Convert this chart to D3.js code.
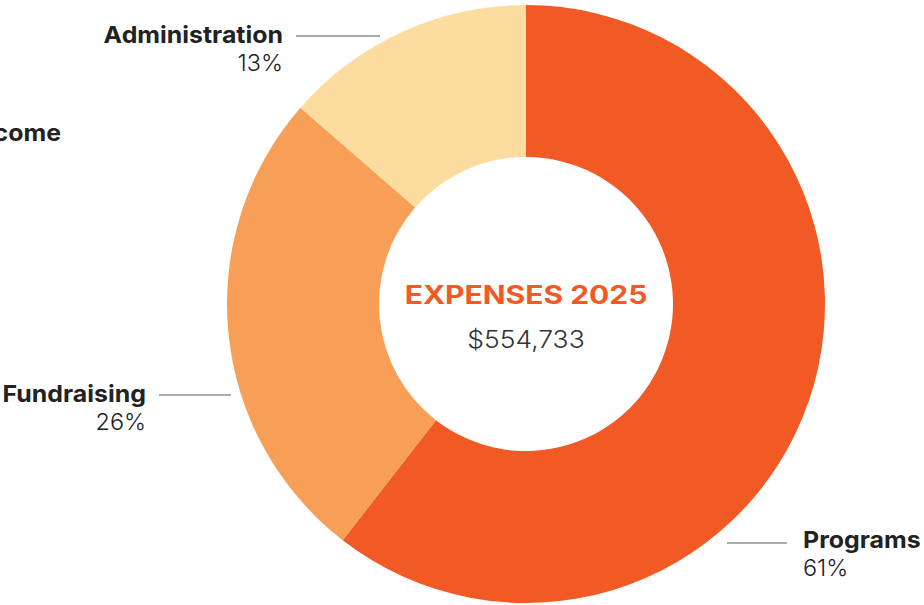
<!DOCTYPE html>
<html>
<head>
<meta charset="utf-8">
<script src="https://cdn.jsdelivr.net/npm/d3@7"></script>
<style>
  html, body { margin: 0; padding: 0; background: #fff; }
  svg { display: block; font-family: Inter, "Noto Sans", sans-serif; }
</style>
</head>
<body>
<div id="chart"></div>
<script>
// Dados
const categories = ["Programs", "Fundraising", "Administration"];
const sliceShares = [60.5, 25.9, 13.6];
const pctLabels = ["61%", "26%", "13%"];
const colors = ["#F15A24", "#F79F57", "#FDDCA0"];
const title = "EXPENSES 2025";
const total = "$554,733";

const width = 924, height = 605;
const cx = 526, cy = 304;
const outerR = 299, innerR = 147;

const svg = d3.select("#chart").append("svg")
  .attr("width", width)
  .attr("height", height);

const data = categories.map((c, i) => ({ name: c, value: sliceShares[i], pct: pctLabels[i], color: colors[i] }));

const pie = d3.pie().sort(null).value(d => d.value);
const arc = d3.arc().innerRadius(innerR).outerRadius(outerR);

const g = svg.append("g").attr("transform", `translate(${cx},${cy})`);

g.selectAll("path")
  .data(pie(data))
  .enter()
  .append("path")
  .attr("d", arc)
  .attr("fill", d => d.data.color);

// Texto esticado na horizontal (fonte original é mais larga)
function wideText(parent, x, y, sx, anchor) {
  return parent.append("text")
    .attr("transform", `translate(${x},${y}) scale(${sx},1)`)
    .attr("text-anchor", anchor);
}

// Texto central
wideText(g, 0, 0, 1.2, "middle")
  .attr("fill", "#F15A24")
  .style("font-size", "25px")
  .style("font-weight", 700)
  .text(title);

wideText(g, 0, 44, 1.08, "middle")
  .attr("fill", "#333")
  .style("font-size", "24.5px")
  .style("font-weight", 300)
  .text(total);

// Rótulos com linhas de ligação
const labelPos = {
  Administration: { x: 283, y: 43, anchor: "end", line: [296, 380, 36] },
  Fundraising: { x: 146, y: 402, anchor: "end", line: [159, 231, 395] },
  Programs: { x: 803, y: 548, anchor: "start", line: [727, 787, 543] }
};

data.forEach(d => {
  const p = labelPos[d.name];
  svg.append("line")
    .attr("x1", p.line[0])
    .attr("x2", p.line[1])
    .attr("y1", p.line[2])
    .attr("y2", p.line[2])
    .attr("stroke", "#555")
    .attr("stroke-width", 1);

  wideText(svg, p.x, p.y, 1.06, p.anchor)
    .attr("fill", "#222")
    .style("font-size", "23.5px")
    .style("font-weight", 700)
    .text(d.name);

  wideText(svg, p.x, p.y + 28, 1.02, p.anchor)
    .attr("fill", "#222")
    .style("font-size", "23px")
    .style("font-weight", 300)
    .text(d.pct);
});

// Rótulo cortado do gráfico vizinho
wideText(svg, 61, 141, 1.06, "end")
  .attr("fill", "#222")
  .style("font-size", "23.5px")
  .style("font-weight", 700)
  .text("Income");
</script>
</body>
</html>
